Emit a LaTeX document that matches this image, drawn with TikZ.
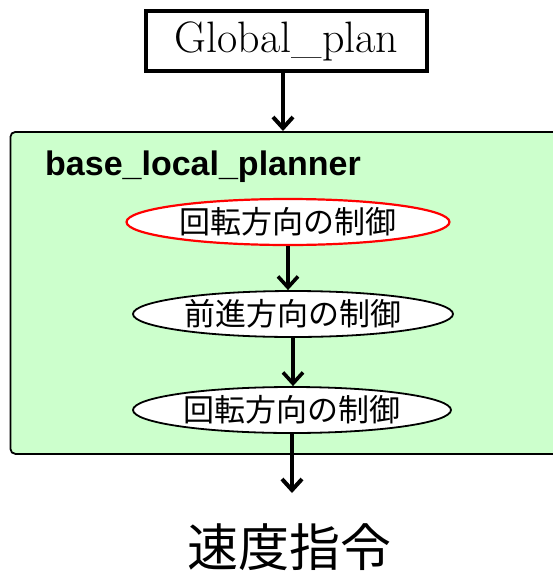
\documentclass[tikz,border=0pt]{standalone}
\usepackage{fontspec}
\newfontfamily\cjk{Noto Sans CJK JP}
\newfontfamily\arialb{Liberation Sans}[BoldFont={Liberation Sans Bold}]
\usetikzlibrary{shapes.geometric,arrows.meta}
\definecolor{boxgreen}{HTML}{CCFFCC}
\begin{document}
\begin{tikzpicture}[x=1pt,y=-1pt,
  arr/.style={line width=3.6pt,-{Straight Barb[length=11pt,width=20pt]}},
  proc/.style={ellipse,draw=black,line width=1.8pt,fill=white,inner sep=0pt,minimum height=46pt,font=\cjk\fontsize{31}{31}\selectfont},
]
\useasboundingbox (0,0) rectangle (553,571);
\clip (0,0) rectangle (553,571);
\node[draw,line width=4pt,minimum width=281pt,minimum height=60pt,inner sep=0pt,font=\fontsize{44}{44}\selectfont] (gp) at (286.5,41) {Global\_plan};
\node[draw,line width=1.8pt,fill=boxgreen,rounded corners=5pt,minimum width=556pt,minimum height=322pt,inner sep=0pt,anchor=north west] (box) at (9.5,131) {};
\node[anchor=base west,font=\arialb\bfseries\fontsize{34}{34}\selectfont,inner sep=0pt] (title) at (45,175) {base\_local\_planner};
\node[proc,draw=red,line width=2.2pt,minimum width=323pt] (e1) at (288,222) {回転方向の制御};
\node[proc,minimum width=320pt] (e2) at (293,314) {前進方向の制御};
\node[proc,minimum width=318pt] (e3) at (292,410) {回転方向の制御};
\coordinate (out) at (292,493);
\node[font=\cjk\fontsize{51}{51}\selectfont,inner sep=0pt] (cmd) at (289,547) {速度指令};
\draw[arr,line width=4pt] (gp.south -| 283,0) -- (283,131);
\draw[arr] (e1.south) -- (e1.south |- e2.north);
\draw[arr] (e2.south) -- (e2.south |- e3.north);
\draw[arr,line width=4pt] (e3.south) -- (e3.south |- out);
\end{tikzpicture}
\end{document}
